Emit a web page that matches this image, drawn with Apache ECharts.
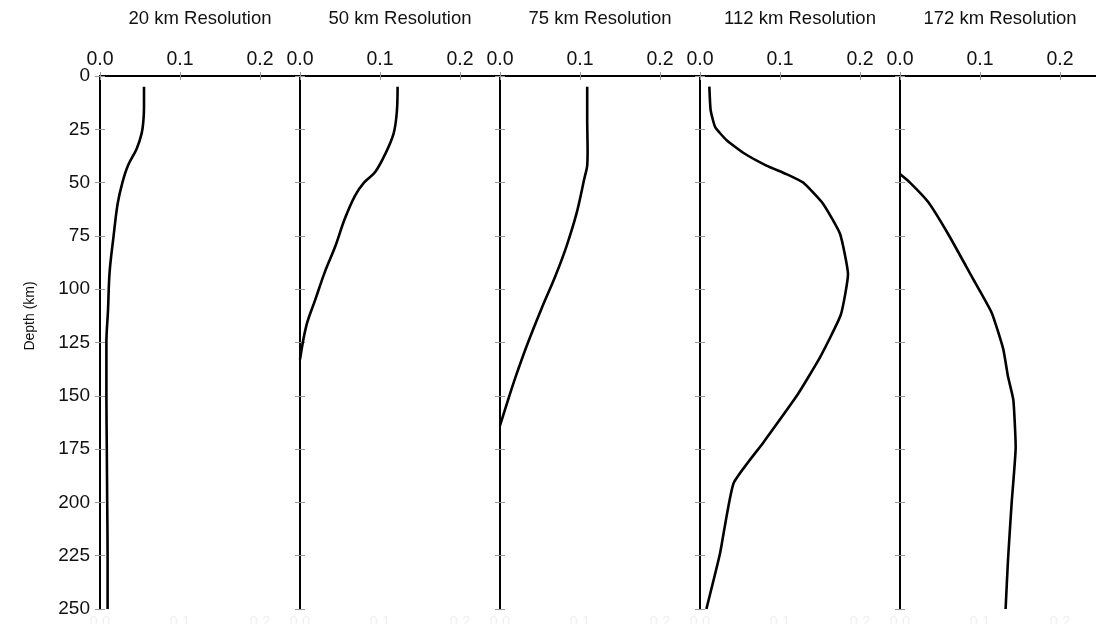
<!DOCTYPE html>
<html>
<head>
<meta charset="utf-8">
<script src="https://cdn.jsdelivr.net/npm/echarts@6/dist/echarts.min.js"></script>
<style>
  html, body { margin: 0; padding: 0; background: #fff; }
  #chart { width: 1096px; height: 624px; }
</style>
</head>
<body>
<div id="chart"></div>
<script>
// Resolution profiles versus depth, one panel per resolution
const panelTitles = ['20 km Resolution', '50 km Resolution', '75 km Resolution', '112 km Resolution', '172 km Resolution'];

const depth20 = [5, 15, 22, 27, 34, 42, 50, 60, 75, 92, 110, 125, 150, 175, 200, 225, 250];
const value20 = [0.055, 0.055, 0.054, 0.052, 0.046, 0.035, 0.028, 0.022, 0.017, 0.012, 0.010, 0.008, 0.008, 0.0085, 0.009, 0.0095, 0.0095];

const depth50 = [5, 17, 27, 37, 45, 50, 56, 67, 80, 92, 105, 117, 133];
const value50 = [0.122, 0.121, 0.117, 0.106, 0.094, 0.080, 0.069, 0.056, 0.044, 0.031, 0.019, 0.008, 0];

const depth75 = [5, 20, 35, 42, 48, 64, 80, 94, 109, 125, 141, 152, 164];
const value75 = [0.109, 0.109, 0.1095, 0.109, 0.1055, 0.096, 0.083, 0.069, 0.052, 0.035, 0.0196, 0.010, 0];

const depth112 = [5, 16, 24, 30, 36, 42, 46, 50, 60, 74, 93, 112, 132, 150, 172, 191, 224, 250];
const value112 = [0.0117, 0.0133, 0.019, 0.033, 0.054, 0.083, 0.108, 0.129, 0.154, 0.175, 0.185, 0.176, 0.150, 0.121, 0.079, 0.042, 0.025, 0.008];

const depth172 = [46, 50, 59, 74, 94, 111, 128, 141, 152, 174, 200, 227, 250];
const value172 = [0, 0.0125, 0.035, 0.060, 0.0896, 0.1146, 0.129, 0.135, 0.1417, 0.1446, 0.1396, 0.135, 0.132];

const depthTicks = { min: 0, max: 250, interval: 25 };
const valueTicks = { min: 0, max: 0.25, interval: 0.1 };

const profiles = [
  { depth: depth20, value: value20, smooth: 0.35 },
  { depth: depth50, value: value50, smooth: 0.35 },
  { depth: depth75, value: value75, smooth: 0.3 },
  { depth: depth112, value: value112, smooth: 0.15 },
  { depth: depth172, value: value172, smooth: 0.15 }
];

const FONT = '"Liberation Sans", Arial, Helvetica, sans-serif';
const PANEL_LEFT = 100, PANEL_W = 200, PANEL_TOP = 76, PANEL_H = 533;

const grid = [], xAxis = [], yAxis = [], series = [];

profiles.forEach((p, i) => {
  grid.push({
    left: PANEL_LEFT + PANEL_W * i, top: PANEL_TOP, width: PANEL_W, height: PANEL_H,
    outerBoundsMode: 'none', containLabel: false
  });

  // top value axis with the panel title
  xAxis.push({
    gridIndex: i, type: 'value', position: 'top',
    min: valueTicks.min, max: valueTicks.max, interval: valueTicks.interval,
    name: panelTitles[i], nameLocation: 'middle', nameGap: 48,
    nameTextStyle: { fontFamily: FONT, fontSize: 18.5, color: '#111' },
    axisLine: { show: true, lineStyle: { color: '#000', width: 2 } },
    axisTick: { show: true, length: 4, lineStyle: { color: '#999', width: 1 } },
    axisLabel: {
      show: true, margin: 6, fontFamily: FONT, fontSize: 19.5, color: '#111',
      showMaxLabel: false, formatter: v => v.toFixed(1)
    },
    splitLine: { show: false }
  });
  // bottom value axis
  xAxis.push({
    gridIndex: i, type: 'value', position: 'bottom',
    min: valueTicks.min, max: valueTicks.max, interval: valueTicks.interval,
    axisLine: { show: true, lineStyle: { color: '#000', width: 2 } },
    axisTick: { show: true, length: 4, lineStyle: { color: '#999', width: 1 } },
    axisLabel: {
      show: true, margin: 5, fontFamily: FONT, fontSize: 15, color: '#f0f0f0',
      showMaxLabel: false, formatter: v => v.toFixed(1)
    },
    splitLine: { show: false }
  });

  // depth axis: outward ticks (with labels on the first panel)
  yAxis.push({
    gridIndex: i, type: 'value', inverse: true, position: 'left',
    min: depthTicks.min, max: depthTicks.max, interval: depthTicks.interval,
    axisLine: { show: true, lineStyle: { color: '#000', width: 2 } },
    axisTick: { show: true, length: 5, lineStyle: { color: '#999', width: 1 } },
    axisLabel: { show: i === 0, margin: 10, fontFamily: FONT, fontSize: 19, color: '#111' },
    splitLine: { show: false }
  });
  // depth axis: inward ticks so each tick crosses the line
  yAxis.push({
    gridIndex: i, type: 'value', inverse: true, position: 'left',
    min: depthTicks.min, max: depthTicks.max, interval: depthTicks.interval,
    axisLine: { show: false },
    axisTick: { show: true, inside: true, length: 5, lineStyle: { color: '#999', width: 1 } },
    axisLabel: { show: false },
    splitLine: { show: false }
  });

  series.push({
    type: 'line',
    xAxisIndex: 2 * i, yAxisIndex: 2 * i,
    data: p.depth.map((d, k) => [p.value[k], d]),
    showSymbol: false, smooth: p.smooth,
    lineStyle: { color: '#000', width: 2.6 },
    z: 1
  });
});

const chart = echarts.init(document.getElementById('chart'), null, { renderer: 'canvas' });
chart.setOption({
  animation: false,
  backgroundColor: '#fff',
  grid, xAxis, yAxis, series,
  graphic: [{
    type: 'text', x: 30, y: 316, rotation: Math.PI / 2,
    style: {
      text: 'Depth (km)', fontFamily: FONT, fontSize: 14, fill: '#111',
      textAlign: 'center', textVerticalAlign: 'middle'
    }
  }]
});
</script>
</body>
</html>
